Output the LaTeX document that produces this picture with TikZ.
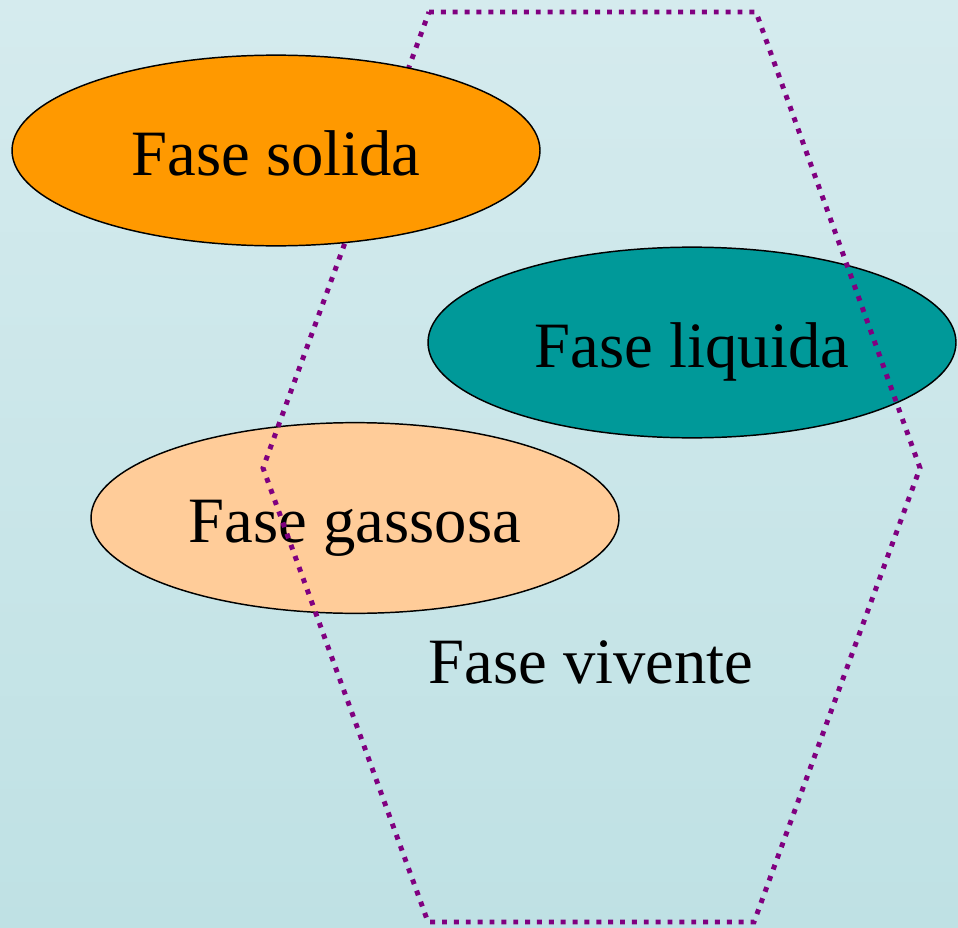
\documentclass[tikz,border=0pt]{standalone}
\usepackage{fontspec}
\setmainfont{Liberation Serif}
\usetikzlibrary{shapes.geometric}
\definecolor{bgtop}{RGB}{213,235,238}
\definecolor{bgbot}{RGB}{191,225,228}
\definecolor{solidafill}{RGB}{255,153,0}
\definecolor{liquidafill}{RGB}{0,153,153}
\definecolor{gassosafill}{RGB}{255,204,153}
\definecolor{viventeline}{RGB}{128,0,128}
\tikzset{every picture/.style={line width=0.75pt}}
\tikzset{fase/.style={ellipse, draw=black, line width=1.1pt, inner sep=0pt, minimum width=396pt, minimum height=143pt, text height=47pt, text depth=10pt, font=\fontsize{48.5}{58}\selectfont}}
\tikzset{bordo/.style={draw=viventeline, line width=3.7pt, dash pattern=on 3.7pt off 5.2pt}}

\begin{document}
\begin{tikzpicture}[x=0.75pt,y=0.75pt,yscale=-1,xscale=1]
%Shape: Rectangle [background]
\shade [top color=bgtop, bottom color=bgbot] (0,0) rectangle (958,928);
\useasboundingbox (0,0) rectangle (958,928);

%Shape: Ellipse [liquida]
\node [fase, fill=liquidafill] (liquida) at (692,342.5) {Fase liquida};
%Shape: Ellipse [gassosa]
\node [fase, fill=gassosafill] (gassosa) at (355,518) {Fase gassosa};

%Shape: Hexagon [vivente]
\draw [bordo] (429,12) -- (756,12) -- (920,468) -- (754,922) -- (428,922) -- (263,468) -- cycle ;

%Shape: Ellipse [solida]
\node [fase, fill=solidafill] (solida) at (276,150.5) {Fase solida};

% Text Node
\node [font=\fontsize{48.5}{58}\selectfont] (vivente) at (591,662) {Fase vivente};
\end{tikzpicture}
\end{document}
